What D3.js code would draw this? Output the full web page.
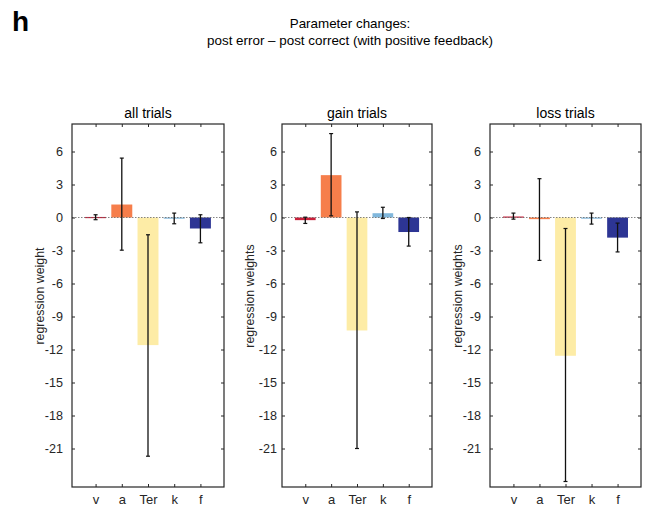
<!DOCTYPE html>
<html><head><meta charset="utf-8">
<script src="https://cdn.jsdelivr.net/npm/d3@7"></script>
<style>body{margin:0;background:#fff}svg{font-family:"Liberation Sans",Arial,sans-serif}</style>
</head><body><svg id="c" width="654" height="510"></svg>
<script>
const categories = ["v","a","Ter","k","f"];
const colors = ["#c8203a","#f67e4b","#fdeca6","#80b7dc","#2d3594"];
const panelTitles = ["all trials","gain trials","loss trials"];
const yLabels = ["regression weight","regression weights","regression weights"];
const yTicks = [6,3,0,-3,-6,-9,-12,-15,-18,-21];
// bar values per panel
const allValues  = [0.05, 1.18, -11.6, -0.1, -1.0];
const allLow     = [-0.2, -2.97, -21.7, -0.57, -2.3];
const allHigh    = [0.25, 5.4, -1.57, 0.4, 0.25];
const gainValues = [-0.24, 3.85, -10.27, 0.39, -1.32];
const gainLow    = [-0.54, 0.15, -21.0, -0.09, -2.6];
const gainHigh   = [0.03, 7.63, 0.51, 0.93, 0.0];
const lossValues = [0.09, -0.15, -12.57, -0.1, -1.83];
const lossLow    = [-0.15, -3.9, -24.0, -0.6, -3.13];
const lossHigh   = [0.4, 3.53, -1.0, 0.4, -0.51];

const panels = [
  {vals: allValues, lo: allLow, hi: allHigh, x0: 72, x1: 224, pad: 9},
  {vals: gainValues, lo: gainLow, hi: gainHigh, x0: 282, x1: 432, pad: 5},
  {vals: lossValues, lo: lossLow, hi: lossHigh, x0: 490, x1: 641, pad: 9}
];
const plotTop = 124, plotBottom = 487;
const svg = d3.select("#c");
const axisColor = "#262626";

svg.append("text").attr("x",12).attr("y",31).attr("font-size",28).attr("font-weight","bold")
  .attr("font-family","Liberation Sans, Arial, sans-serif").text("h");
svg.append("text").attr("x",350).attr("y",28).attr("text-anchor","middle").attr("font-size",13.4).text("Parameter changes:");
svg.append("text").attr("x",350).attr("y",45).attr("text-anchor","middle").attr("font-size",13.4).text("post error \u2013 post correct (with positive feedback)");

panels.forEach((p, pi) => {
  const x = d3.scaleLinear().domain([0.1, 5.9]).range([p.x0, p.x1]);
  const y = d3.scaleLinear().domain([-24.5, 8.5]).range([plotBottom, plotTop]);
  const g = svg.append("g");
  const bw = x(1.8) - x(1);
  g.selectAll("rect.bar").data(categories).join("rect")
    .attr("x", (d,i) => x(i+1) - bw/2)
    .attr("width", bw)
    .attr("y", (d,i) => y(Math.max(0, p.vals[i])))
    .attr("height", (d,i) => Math.max(1.2, Math.abs(y(p.vals[i]) - y(0))))
    .attr("fill", (d,i) => colors[i]);
  g.append("line").attr("x1", p.x0).attr("x2", p.x1).attr("y1", y(0)).attr("y2", y(0))
    .attr("stroke","#666").attr("stroke-width",0.8).attr("stroke-dasharray","1.5,1.5");
  const eb = g.selectAll("g.eb").data(categories).join("g");
  eb.append("line").attr("x1",(d,i)=>x(i+1)).attr("x2",(d,i)=>x(i+1))
    .attr("y1",(d,i)=>y(p.lo[i])).attr("y2",(d,i)=>y(p.hi[i])).attr("stroke","#111").attr("stroke-width",1.3);
  ["lo","hi"].forEach(k => {
    eb.append("line").attr("x1",(d,i)=>x(i+1)-2).attr("x2",(d,i)=>x(i+1)+2)
      .attr("y1",(d,i)=>y(p[k][i])).attr("y2",(d,i)=>y(p[k][i])).attr("stroke","#111").attr("stroke-width",1.2);
  });
  const yl = d3.axisLeft(y).tickValues(yTicks).tickSize(-3).tickPadding(p.pad).tickFormat(d => String(d));
  const yr = d3.axisRight(y).tickValues(yTicks).tickSize(-3).tickFormat("");
  const xb = d3.axisBottom(x).tickValues([1,2,3,4,5]).tickSize(-3).tickPadding(7.5).tickFormat((d)=>categories[d-1]);
  const xt = d3.axisTop(x).tickValues([1,2,3,4,5]).tickSize(-3).tickFormat("");
  const style = (a, fs) => { a.select(".domain").remove(); a.selectAll("line").attr("stroke",axisColor).attr("stroke-width",1);
    a.selectAll("text").attr("font-size",fs).attr("fill","#262626").attr("font-family","Liberation Sans, Arial, sans-serif"); };
  g.append("g").attr("transform",`translate(${p.x0},0)`).call(yl).call(style, 12.6);
  g.append("g").attr("transform",`translate(${p.x1},0)`).call(yr).call(style, 12.6);
  g.append("g").attr("transform",`translate(0,${plotBottom})`).call(xb).call(style, 13);
  g.append("g").attr("transform",`translate(0,${plotTop})`).call(xt).call(style, 13);
  g.append("rect").attr("x",p.x0).attr("y",plotTop).attr("width",p.x1-p.x0).attr("height",plotBottom-plotTop)
    .attr("fill","none").attr("stroke",axisColor).attr("stroke-width",1.2);
  svg.append("text").attr("x",(p.x0+p.x1)/2).attr("y",118).attr("text-anchor","middle").attr("font-size",14).text(panelTitles[pi]);
  svg.append("text").attr("transform",`translate(${p.x0-28},296) rotate(-90)`)
    .attr("text-anchor","middle").attr("font-size",12.4).attr("fill","#262626").text(yLabels[pi]);
});
</script></body></html>
